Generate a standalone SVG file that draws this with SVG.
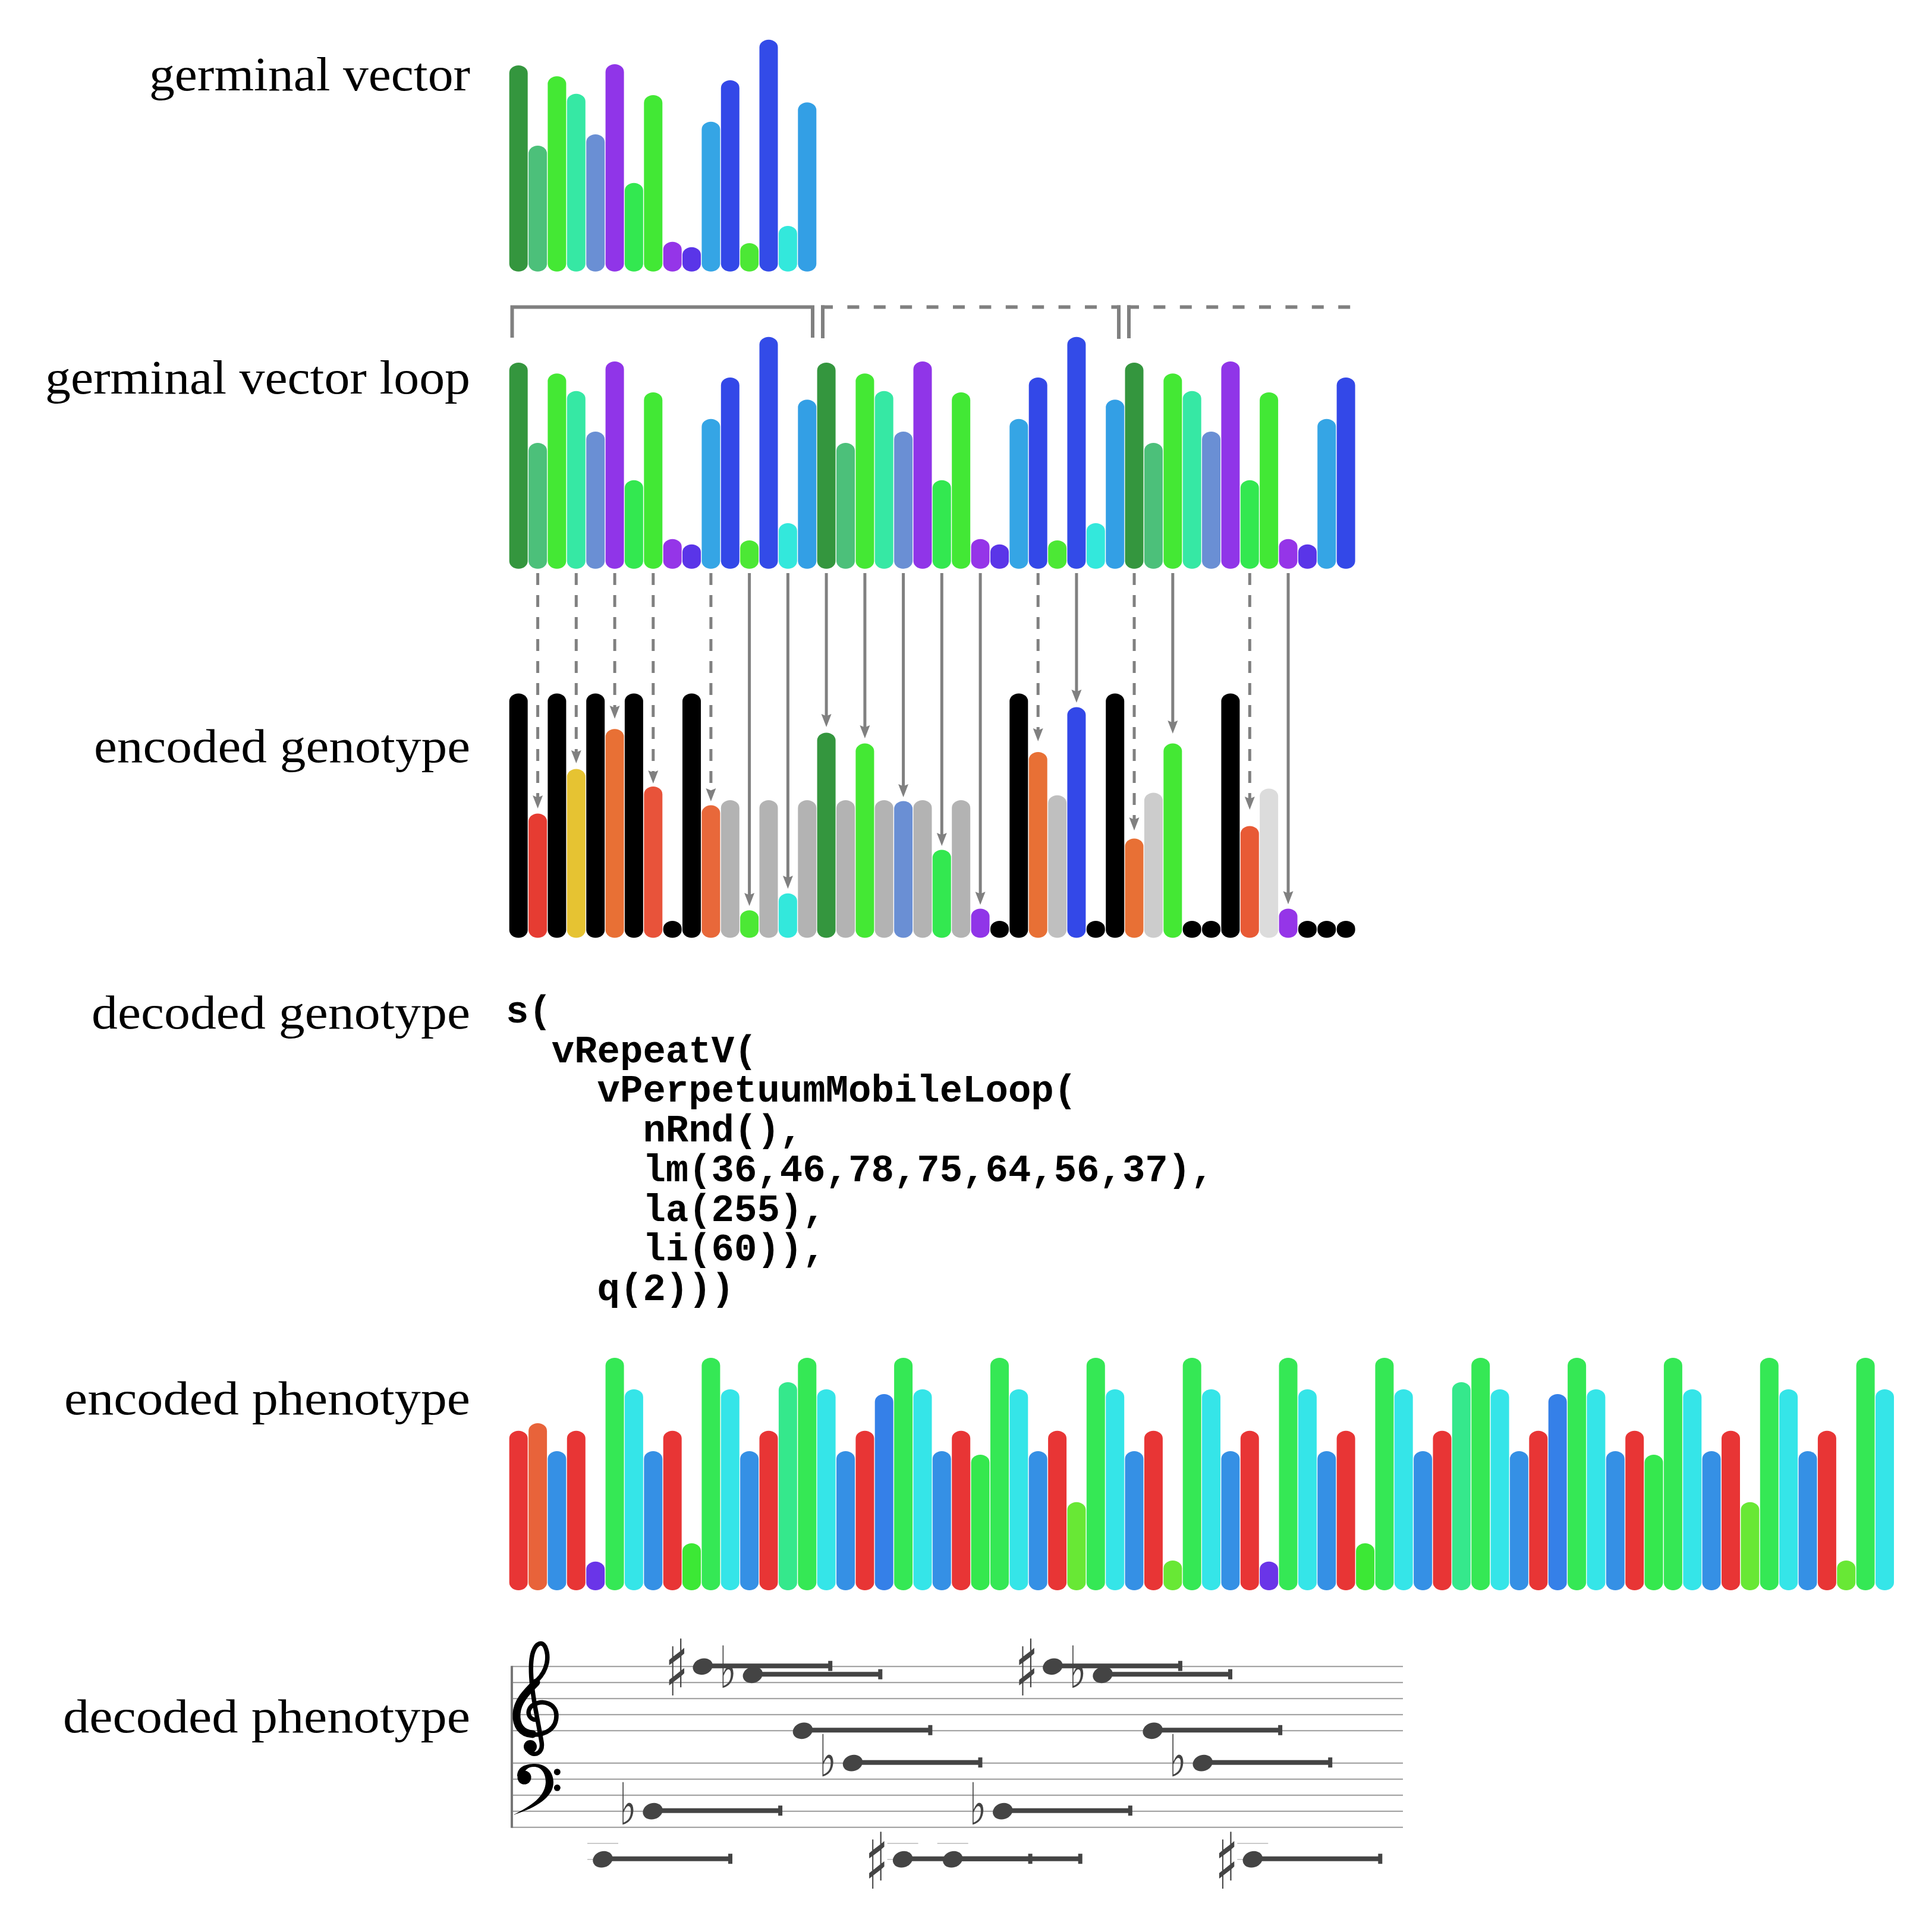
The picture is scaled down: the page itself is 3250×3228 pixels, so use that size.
<svg xmlns="http://www.w3.org/2000/svg" xmlns:xlink="http://www.w3.org/1999/xlink" width="3250" height="3228" viewBox="0 0 3250 3228">
<style>
.lbl{font-family:"Liberation Serif","DejaVu Serif",serif;font-size:80px;fill:#000;text-anchor:end}
.code{font-family:"Liberation Mono","DejaVu Sans Mono",monospace;font-size:64px;font-weight:bold;fill:#000}
.g0{fill:#34963e}.g1{fill:#4cc07a}.g2{fill:#44e834}.g3{fill:#36e8a4}.g4{fill:#6a8fd4}.g5{fill:#9035e8}.g6{fill:#33e850}.g7{fill:#42e835}
.g8{fill:#9535e8}.g9{fill:#5a35e8}.g10{fill:#35a5e5}.g11{fill:#3348e8}.g12{fill:#4ce835}.g13{fill:#334be8}.g14{fill:#33e8dc}.g15{fill:#339fe5}
.k{fill:#000}.gy{fill:#b3b3b3}
.con{stroke:#808080;stroke-width:5;fill:none}
.dash{stroke-dasharray:20 17}
.br{stroke:#808080;stroke-width:6;fill:none}
.brd{stroke:#808080;stroke-width:6;fill:none;stroke-dasharray:20 24.4}
.staff{stroke:#9a9a9a;stroke-width:2}
.ledger{stroke:#bbbbbb;stroke-width:1.5}
.acc{font-family:"DejaVu Sans",sans-serif;font-size:80px;fill:#444;text-anchor:middle}
</style>
<defs>
<marker id="ah" markerUnits="userSpaceOnUse" orient="auto" markerWidth="40" markerHeight="40" refX="0" refY="0" overflow="visible">
<path d="M15,0 L-7,-8.5 L-3.5,0 L-7,8.5 Z" fill="#808080"/>
</marker>
<rect id="v0" class="g0" x="0" y="110" width="31" height="346.7" rx="15.5" ry="13"/>
<rect id="v1" class="g1" x="0" y="245" width="31" height="211.7" rx="15.5" ry="13"/>
<rect id="v2" class="g2" x="0" y="128.3" width="31" height="328.4" rx="15.5" ry="13"/>
<rect id="v3" class="g3" x="0" y="157.7" width="31" height="299" rx="15.5" ry="13"/>
<rect id="v4" class="g4" x="0" y="226" width="31" height="230.7" rx="15.5" ry="13"/>
<rect id="v5" class="g5" x="0" y="108" width="31" height="348.7" rx="15.5" ry="13"/>
<rect id="v6" class="g6" x="0" y="307.7" width="31" height="149" rx="15.5" ry="13"/>
<rect id="v7" class="g7" x="0" y="160" width="31" height="296.7" rx="15.5" ry="13"/>
<rect id="v8" class="g8" x="0" y="406.7" width="31" height="50" rx="15.5" ry="13"/>
<rect id="v9" class="g9" x="0" y="415.7" width="31" height="41" rx="15.5" ry="13"/>
<rect id="v10" class="g10" x="0" y="204.7" width="31" height="252" rx="15.5" ry="13"/>
<rect id="v11" class="g11" x="0" y="135" width="31" height="321.7" rx="15.5" ry="13"/>
<rect id="v12" class="g12" x="0" y="409" width="31" height="47.7" rx="15.5" ry="13"/>
<rect id="v13" class="g13" x="0" y="66.7" width="31" height="390" rx="15.5" ry="13"/>
<rect id="v14" class="g14" x="0" y="380" width="31" height="76.7" rx="15.5" ry="13"/>
<rect id="v15" class="g15" x="0" y="172.3" width="31" height="284.4" rx="15.5" ry="13"/>
<rect id="ek" class="k" x="0" y="1166.4" width="31" height="411.2" rx="15.5" ry="13"/>
<rect id="ed" class="k" x="0" y="1549" width="31" height="28.6" rx="15.5" ry="13"/>
<rect id="eg" class="gy" x="0" y="1346" width="31" height="231.6" rx="15.5" ry="13"/>
<rect id="pr" fill="#e83535" x="0" y="2406.7" width="31" height="268.3" rx="15.5" ry="13"/>
<rect id="po" fill="#e8633a" x="0" y="2394" width="31" height="281" rx="15.5" ry="13"/>
<rect id="pb" fill="#3590e5" x="0" y="2441" width="31" height="234" rx="15.5" ry="13"/>
<rect id="pg" fill="#35e855" x="0" y="2284" width="31" height="391" rx="15.5" ry="13"/>
<rect id="pc" fill="#35e5e8" x="0" y="2337" width="31" height="338" rx="15.5" ry="13"/>
<rect id="pp" fill="#6a35e8" x="0" y="2626.7" width="31" height="48.3" rx="15.5" ry="13"/>
<rect id="ps" fill="#3ce835" x="0" y="2596" width="31" height="79" rx="15.5" ry="13"/>
<rect id="pt" fill="#35e88c" x="0" y="2325" width="31" height="350" rx="15.5" ry="13"/>
<rect id="pd" fill="#3580e8" x="0" y="2345" width="31" height="330" rx="15.5" ry="13"/>
<rect id="pm" fill="#35e84e" x="0" y="2447" width="31" height="228" rx="15.5" ry="13"/>
<rect id="py" fill="#68e835" x="0" y="2526.7" width="31" height="148.3" rx="15.5" ry="13"/>
<rect id="pz" fill="#68e835" x="0" y="2625" width="31" height="50" rx="15.5" ry="13"/>
<g id="nt" fill="#444444">
<rect x="0" y="-5" width="214" height="8"/>
<rect x="211" y="-9.5" width="7" height="17"/>
<ellipse cx="0" cy="0" rx="17" ry="13.5" transform="rotate(-18)"/>
</g>
</defs>

<g id="labels">
<text class="lbl" x="791" y="152" textLength="540" lengthAdjust="spacingAndGlyphs">germinal vector</text>
<text class="lbl" x="791" y="662" textLength="715" lengthAdjust="spacingAndGlyphs">germinal vector loop</text>
<text class="lbl" x="791" y="1282" textLength="633" lengthAdjust="spacingAndGlyphs">encoded genotype</text>
<text class="lbl" x="791" y="1730" textLength="637" lengthAdjust="spacingAndGlyphs">decoded genotype</text>
<text class="lbl" x="791" y="2379" textLength="683" lengthAdjust="spacingAndGlyphs">encoded phenotype</text>
<text class="lbl" x="791" y="2914" textLength="685" lengthAdjust="spacingAndGlyphs">decoded phenotype</text>
</g>

<g id="germinal-vector">
<use href="#v0" x="856.7"/><use href="#v1" x="889.1"/><use href="#v2" x="921.4"/><use href="#v3" x="953.8"/>
<use href="#v4" x="986.2"/><use href="#v5" x="1018.6"/><use href="#v6" x="1050.9"/><use href="#v7" x="1083.3"/>
<use href="#v8" x="1115.7"/><use href="#v9" x="1148"/><use href="#v10" x="1180.4"/><use href="#v11" x="1212.8"/>
<use href="#v12" x="1245.1"/><use href="#v13" x="1277.5"/><use href="#v14" x="1309.9"/><use href="#v15" x="1342.3"/>
</g>

<g id="brackets">
<path class="br" d="M861.5,568 V516.5 H1367 V568"/>
<line class="br" x1="1384" y1="513.5" x2="1384" y2="569"/>
<line class="brd" x1="1381" y1="516.5" x2="1885" y2="516.5"/>
<line class="br" x1="1882" y1="513.5" x2="1882" y2="570"/>
<line class="br" x1="1899" y1="513.5" x2="1899" y2="569"/>
<line class="brd" x1="1896" y1="516.5" x2="2274" y2="516.5"/>
</g>

<g id="germinal-vector-loop">
<use href="#v0" x="856.7" y="500"/><use href="#v1" x="889.1" y="500"/><use href="#v2" x="921.4" y="500"/><use href="#v3" x="953.8" y="500"/>
<use href="#v4" x="986.2" y="500"/><use href="#v5" x="1018.6" y="500"/><use href="#v6" x="1050.9" y="500"/><use href="#v7" x="1083.3" y="500"/>
<use href="#v8" x="1115.7" y="500"/><use href="#v9" x="1148" y="500"/><use href="#v10" x="1180.4" y="500"/><use href="#v11" x="1212.8" y="500"/>
<use href="#v12" x="1245.1" y="500"/><use href="#v13" x="1277.5" y="500"/><use href="#v14" x="1309.9" y="500"/><use href="#v15" x="1342.3" y="500"/>
<use href="#v0" x="1374.6" y="500"/><use href="#v1" x="1407" y="500"/><use href="#v2" x="1439.4" y="500"/><use href="#v3" x="1471.7" y="500"/>
<use href="#v4" x="1504.1" y="500"/><use href="#v5" x="1536.5" y="500"/><use href="#v6" x="1568.8" y="500"/><use href="#v7" x="1601.2" y="500"/>
<use href="#v8" x="1633.6" y="500"/><use href="#v9" x="1666" y="500"/><use href="#v10" x="1698.3" y="500"/><use href="#v11" x="1730.7" y="500"/>
<use href="#v12" x="1763.1" y="500"/><use href="#v13" x="1795.4" y="500"/><use href="#v14" x="1827.8" y="500"/><use href="#v15" x="1860.2" y="500"/>
<use href="#v0" x="1892.5" y="500"/><use href="#v1" x="1924.9" y="500"/><use href="#v2" x="1957.3" y="500"/><use href="#v3" x="1989.7" y="500"/>
<use href="#v4" x="2022" y="500"/><use href="#v5" x="2054.4" y="500"/><use href="#v6" x="2086.8" y="500"/><use href="#v7" x="2119.1" y="500"/>
<use href="#v8" x="2151.5" y="500"/><use href="#v9" x="2183.9" y="500"/><use href="#v10" x="2216.2" y="500"/><use href="#v11" x="2248.6" y="500"/>
</g>

<g id="encoded-genotype">
<use href="#ek" x="856.7"/>
<rect x="889.1" y="1368.5" width="31" height="209.1" rx="15.5" ry="13" fill="#e63c32"/>
<use href="#ek" x="921.4"/>
<rect x="953.8" y="1293.5" width="31" height="284.1" rx="15.5" ry="13" fill="#e6c332"/>
<use href="#ek" x="986.2"/>
<rect x="1018.6" y="1226.2" width="31" height="351.4" rx="15.5" ry="13" fill="#e87035"/>
<use href="#ek" x="1050.9"/>
<rect x="1083.3" y="1323" width="31" height="254.6" rx="15.5" ry="13" fill="#e8533a"/>
<use href="#ed" x="1115.7"/>
<use href="#ek" x="1148"/>
<rect x="1180.4" y="1354.6" width="31" height="223" rx="15.5" ry="13" fill="#e8683a"/>
<use href="#eg" x="1212.8"/>
<rect x="1245.1" y="1531.3" width="31" height="46.3" rx="15.5" ry="13" fill="#4ce835"/>
<use href="#eg" x="1277.5"/>
<rect x="1309.9" y="1502.7" width="31" height="74.9" rx="15.5" ry="13" fill="#33e8dc"/>
<use href="#eg" x="1342.3"/>
<rect x="1374.6" y="1232.5" width="31" height="345.1" rx="15.5" ry="13" fill="#34963e"/>
<use href="#eg" x="1407"/>
<rect x="1439.4" y="1250.6" width="31" height="327" rx="15.5" ry="13" fill="#44e834"/>
<use href="#eg" x="1471.7"/>
<rect x="1504.1" y="1347.4" width="31" height="230.2" rx="15.5" ry="13" fill="#6a8fd4"/>
<use href="#eg" x="1536.5"/>
<rect x="1568.8" y="1429.5" width="31" height="148.1" rx="15.5" ry="13" fill="#33e850"/>
<use href="#eg" x="1601.2"/>
<rect x="1633.6" y="1528.4" width="31" height="49.2" rx="15.5" ry="13" fill="#9035e8"/>
<use href="#ed" x="1666"/>
<use href="#ek" x="1698.3"/>
<rect x="1730.7" y="1265" width="31" height="312.6" rx="15.5" ry="13" fill="#e87035"/>
<rect x="1763.1" y="1337.7" width="31" height="239.9" rx="15.5" ry="13" fill="#bfbfbf"/>
<rect x="1795.4" y="1189.6" width="31" height="388" rx="15.5" ry="13" fill="#3348e8"/>
<use href="#ed" x="1827.8"/>
<use href="#ek" x="1860.2"/>
<rect x="1892.5" y="1410.5" width="31" height="167.1" rx="15.5" ry="13" fill="#e87035"/>
<rect x="1924.9" y="1333.5" width="31" height="244.1" rx="15.5" ry="13" fill="#cccccc"/>
<rect x="1957.3" y="1250.6" width="31" height="327" rx="15.5" ry="13" fill="#44e834"/>
<use href="#ed" x="1989.7"/>
<use href="#ed" x="2022"/>
<use href="#ek" x="2054.4"/>
<rect x="2086.8" y="1389.5" width="31" height="188.1" rx="15.5" ry="13" fill="#e85a35"/>
<rect x="2119.1" y="1326.4" width="31" height="251.2" rx="15.5" ry="13" fill="#dcdcdc"/>
<rect x="2151.5" y="1528.4" width="31" height="49.2" rx="15.5" ry="13" fill="#9535e8"/>
<use href="#ed" x="2183.9"/>
<use href="#ed" x="2216.2"/>
<use href="#ed" x="2248.6"/>
</g>

<g id="connectors">
<line class="con dash" x1="904.6" y1="964" x2="904.6" y2="1345" marker-end="url(#ah)"/>
<line class="con dash" x1="969.3" y1="964" x2="969.3" y2="1269" marker-end="url(#ah)"/>
<line class="con dash" x1="1034.1" y1="964" x2="1034.1" y2="1194" marker-end="url(#ah)"/>
<line class="con dash" x1="1098.8" y1="964" x2="1098.8" y2="1303" marker-end="url(#ah)"/>
<line class="con dash" x1="1195.9" y1="964" x2="1195.9" y2="1333" marker-end="url(#ah)"/>
<line class="con" x1="1260.6" y1="964" x2="1260.6" y2="1509" marker-end="url(#ah)"/>
<line class="con" x1="1325.4" y1="964" x2="1325.4" y2="1480" marker-end="url(#ah)"/>
<line class="con" x1="1390.1" y1="964" x2="1390.1" y2="1208" marker-end="url(#ah)"/>
<line class="con" x1="1454.9" y1="964" x2="1454.9" y2="1227" marker-end="url(#ah)"/>
<line class="con" x1="1519.6" y1="964" x2="1519.6" y2="1326" marker-end="url(#ah)"/>
<line class="con" x1="1584.3" y1="964" x2="1584.3" y2="1408" marker-end="url(#ah)"/>
<line class="con" x1="1649.1" y1="964" x2="1649.1" y2="1507" marker-end="url(#ah)"/>
<line class="con dash" x1="1746.2" y1="964" x2="1746.2" y2="1232" marker-end="url(#ah)"/>
<line class="con" x1="1810.9" y1="964" x2="1810.9" y2="1167" marker-end="url(#ah)"/>
<line class="con dash" x1="1908" y1="964" x2="1908" y2="1382" marker-end="url(#ah)"/>
<line class="con" x1="1972.8" y1="964" x2="1972.8" y2="1219" marker-end="url(#ah)"/>
<line class="con dash" x1="2102.3" y1="964" x2="2102.3" y2="1347" marker-end="url(#ah)"/>
<line class="con" x1="2167" y1="964" x2="2167" y2="1506" marker-end="url(#ah)"/>
</g>

<g id="decoded-genotype">
<text class="code" x="851" y="1720">s(</text>
<text class="code" x="927.8" y="1786.7">vRepeatV(</text>
<text class="code" x="1004.6" y="1853.4">vPerpetuumMobileLoop(</text>
<text class="code" x="1081.4" y="1920.1">nRnd(),</text>
<text class="code" x="1081.4" y="1986.8">lm(36,46,78,75,64,56,37),</text>
<text class="code" x="1081.4" y="2053.5">la(255),</text>
<text class="code" x="1081.4" y="2120.2">li(60)),</text>
<text class="code" x="1004.6" y="2186.9">q(2)))</text>
</g>

<g id="encoded-phenotype">
<use href="#pr" x="856.7"/><use href="#po" x="889.1"/><use href="#pb" x="921.4"/><use href="#pr" x="953.8"/>
<use href="#pp" x="986.2"/><use href="#pg" x="1018.6"/><use href="#pc" x="1050.9"/><use href="#pb" x="1083.3"/><use href="#pr" x="1115.7"/>
<use href="#ps" x="1148"/><use href="#pg" x="1180.4"/><use href="#pc" x="1212.8"/><use href="#pb" x="1245.1"/><use href="#pr" x="1277.5"/>
<use href="#pt" x="1309.9"/><use href="#pg" x="1342.3"/><use href="#pc" x="1374.6"/><use href="#pb" x="1407"/><use href="#pr" x="1439.4"/>
<use href="#pd" x="1471.7"/><use href="#pg" x="1504.1"/><use href="#pc" x="1536.5"/><use href="#pb" x="1568.8"/><use href="#pr" x="1601.2"/>
<use href="#pm" x="1633.6"/><use href="#pg" x="1666"/><use href="#pc" x="1698.3"/><use href="#pb" x="1730.7"/><use href="#pr" x="1763.1"/>
<use href="#py" x="1795.4"/><use href="#pg" x="1827.8"/><use href="#pc" x="1860.2"/><use href="#pb" x="1892.5"/><use href="#pr" x="1924.9"/>
<use href="#pz" x="1957.3"/><use href="#pg" x="1989.7"/><use href="#pc" x="2022"/><use href="#pb" x="2054.4"/><use href="#pr" x="2086.8"/>
<use href="#pp" x="2119.1"/><use href="#pg" x="2151.5"/><use href="#pc" x="2183.9"/><use href="#pb" x="2216.2"/><use href="#pr" x="2248.6"/>
<use href="#ps" x="2281"/><use href="#pg" x="2313.4"/><use href="#pc" x="2345.7"/><use href="#pb" x="2378.1"/><use href="#pr" x="2410.5"/>
<use href="#pt" x="2442.8"/><use href="#pg" x="2475.2"/><use href="#pc" x="2507.6"/><use href="#pb" x="2539.9"/><use href="#pr" x="2572.3"/>
<use href="#pd" x="2604.7"/><use href="#pg" x="2637.1"/><use href="#pc" x="2669.4"/><use href="#pb" x="2701.8"/><use href="#pr" x="2734.2"/>
<use href="#pm" x="2766.5"/><use href="#pg" x="2798.9"/><use href="#pc" x="2831.3"/><use href="#pb" x="2863.6"/><use href="#pr" x="2896"/>
<use href="#py" x="2928.4"/><use href="#pg" x="2960.8"/><use href="#pc" x="2993.1"/><use href="#pb" x="3025.5"/><use href="#pr" x="3057.9"/>
<use href="#pz" x="3090.2"/><use href="#pg" x="3122.6"/><use href="#pc" x="3155"/>
</g>

<g id="decoded-phenotype">
<g id="staff">
<line class="staff" x1="861" y1="2803.3" x2="2360" y2="2803.3"/>
<line class="staff" x1="861" y1="2830.3" x2="2360" y2="2830.3"/>
<line class="staff" x1="861" y1="2857.3" x2="2360" y2="2857.3"/>
<line class="staff" x1="861" y1="2884.3" x2="2360" y2="2884.3"/>
<line class="staff" x1="861" y1="2911.3" x2="2360" y2="2911.3"/>
<line class="staff" x1="861" y1="2965.7" x2="2360" y2="2965.7"/>
<line class="staff" x1="861" y1="2992.7" x2="2360" y2="2992.7"/>
<line class="staff" x1="861" y1="3019.7" x2="2360" y2="3019.7"/>
<line class="staff" x1="861" y1="3046.7" x2="2360" y2="3046.7"/>
<line class="staff" x1="861" y1="3073.7" x2="2360" y2="3073.7"/>
<line x1="861" y1="2802.3" x2="861" y2="3074.7" stroke="#777777" stroke-width="4"/>
</g>
<g id="treble-clef" fill="none" stroke="#000" stroke-linecap="round">
<path stroke-width="7.5" d="M903,2893 C888,2893 884,2876 897,2868 C914,2858 936,2866 936,2886 C936,2908 918,2918 898,2918 C876,2918 866,2902 867,2882 C868,2858 888,2842 904,2826 C920,2810 925,2788 917,2770 C912,2760 902,2764 897,2778 C891,2795 893,2830 900,2870 L911,2930 C914,2948 900,2956 890,2946"/>
<path stroke-width="13" d="M896,2917 C877,2916 868,2902 869,2883 C870,2862 886,2846 902,2830"/>
<circle cx="892" cy="2938" r="11" fill="#000" stroke="none"/>
</g>
<g id="bass-clef" fill="#000">
<path d="M870,2988 C870,2972 884,2967 900,2967 C918,2967 931,2980 931,2998 C931,3022 905,3040 863,3053 C898,3036 917,3020 918,2998 C918,2982 910,2972 898,2972 C888,2972 882,2978 882,2985 Z"/>
<circle cx="882" cy="2990" r="11.5"/>
<circle cx="937.3" cy="2980.7" r="5.5"/>
<circle cx="937.3" cy="3007.3" r="5.5"/>
</g>
<g id="ledgers">
<line class="ledger" x1="988" y1="3100.7" x2="1040" y2="3100.7"/><line class="ledger" x1="988" y1="3127.7" x2="1040" y2="3127.7"/>
<line class="ledger" x1="1492.6" y1="3100.7" x2="1544.6" y2="3100.7"/><line class="ledger" x1="1492.6" y1="3127.7" x2="1544.6" y2="3127.7"/>
<line class="ledger" x1="1576.7" y1="3100.7" x2="1628.7" y2="3100.7"/><line class="ledger" x1="1576.7" y1="3127.7" x2="1628.7" y2="3127.7"/>
<line class="ledger" x1="2081.3" y1="3100.7" x2="2133.3" y2="3100.7"/><line class="ledger" x1="2081.3" y1="3127.7" x2="2133.3" y2="3127.7"/>
</g>
<g id="accidentals">
<text class="acc" transform="translate(1056.1,3068.7) scale(0.75,1.22)">♭</text>
<text class="acc" transform="translate(1138.2,2852.3) scale(1,1.64)">♯</text>
<text class="acc" transform="translate(1224.3,2839.3) scale(0.75,1.22)">♭</text>
<text class="acc" transform="translate(1392.5,2987.7) scale(0.75,1.22)">♭</text>
<text class="acc" transform="translate(1474.6,3176.7) scale(1,1.64)">♯</text>
<text class="acc" transform="translate(1644.8,3068.7) scale(0.75,1.22)">♭</text>
<text class="acc" transform="translate(1726.9,2852.3) scale(1,1.64)">♯</text>
<text class="acc" transform="translate(1813,2839.3) scale(0.75,1.22)">♭</text>
<text class="acc" transform="translate(1981.2,2987.7) scale(0.75,1.22)">♭</text>
<text class="acc" transform="translate(2063.3,3176.7) scale(1,1.64)">♯</text>
</g>
<g id="notes">
<use href="#nt" x="1014" y="3127.7"/>
<use href="#nt" x="1098.1" y="3046.7"/>
<use href="#nt" x="1182.2" y="2803.3"/>
<use href="#nt" x="1266.3" y="2817.3"/>
<use href="#nt" x="1350.4" y="2911.3"/>
<use href="#nt" x="1434.5" y="2965.7"/>
<use href="#nt" x="1518.6" y="3127.7"/>
<use href="#nt" x="1602.7" y="3127.7"/>
<use href="#nt" x="1686.8" y="3046.7"/>
<use href="#nt" x="1770.9" y="2803.3"/>
<use href="#nt" x="1855" y="2817.3"/>
<use href="#nt" x="1939.1" y="2911.3"/>
<use href="#nt" x="2023.2" y="2965.7"/>
<use href="#nt" x="2107.3" y="3127.7"/>
</g>
</g>
</svg>
